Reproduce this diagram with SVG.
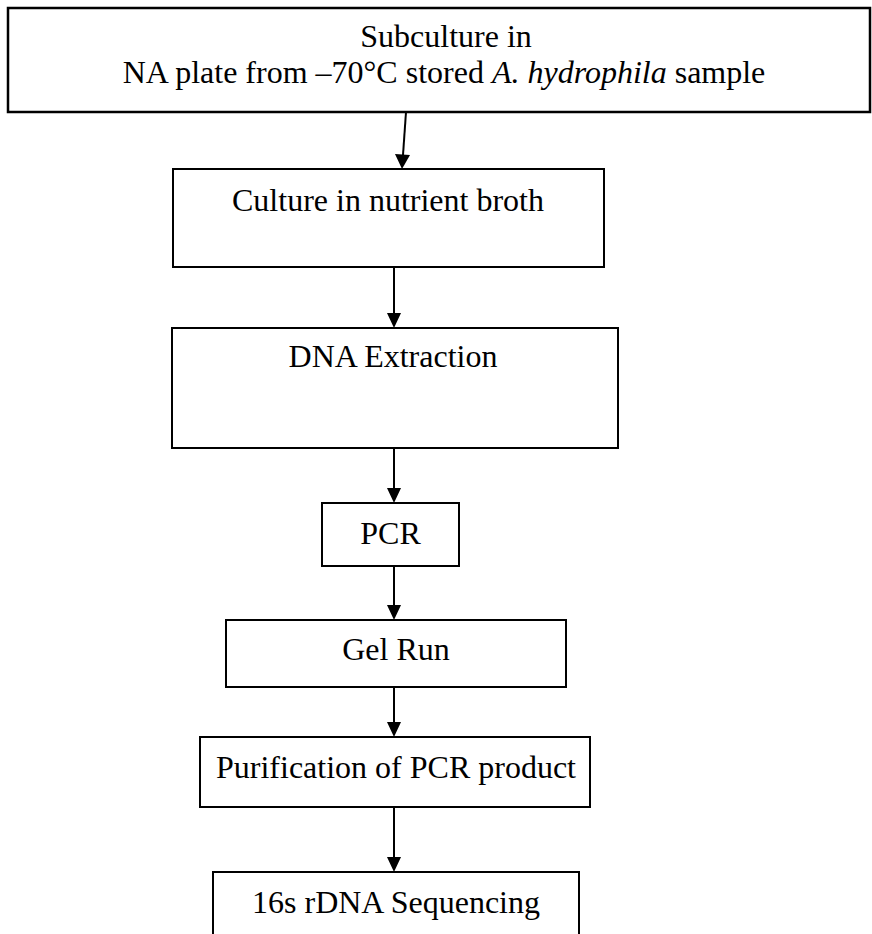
<svg xmlns="http://www.w3.org/2000/svg" width="872" height="934" viewBox="0 0 872 934">
<defs>
<marker id="ah" markerWidth="14" markerHeight="16" refX="7" refY="15" orient="auto-start-reverse" markerUnits="userSpaceOnUse" viewBox="0 0 14 16">
<path d="M0,0 L14,0 L7,15 Z" fill="#000" transform="rotate(-90 7 8)"/>
</marker>
<style>
.box{fill:#fff;stroke:#000;stroke-width:2}
.t{font-family:"Liberation Serif","Times New Roman",serif;font-size:32px;fill:#000;text-anchor:middle}
.c{stroke:#000;stroke-width:2;fill:none}
.hd{fill:#000}
</style>
</defs>
<rect width="872" height="934" fill="#fff"/>
<g id="n1">
<rect class="box" x="8" y="8" width="862" height="104" style="stroke-width:2.5"/>
<text class="t" x="446" y="47">Subculture in</text>
<text class="t" x="444" y="83">NA plate from –70°C stored <tspan font-style="italic">A. hydrophila</tspan> sample</text>
</g>
<g id="n2">
<rect class="box" x="173" y="169" width="431" height="98"/>
<text class="t" x="388" y="211">Culture in nutrient broth</text>
</g>
<g id="n3">
<rect class="box" x="172" y="328" width="446" height="120"/>
<text class="t" x="393" y="367">DNA Extraction</text>
</g>
<g id="n4">
<rect class="box" x="322" y="503" width="137" height="63"/>
<text class="t" x="390.5" y="544">PCR</text>
</g>
<g id="n5">
<rect class="box" x="226" y="620" width="340" height="67"/>
<text class="t" x="396" y="660">Gel Run</text>
</g>
<g id="n6">
<rect class="box" x="200" y="737" width="390" height="70"/>
<text class="t" x="396" y="778">Purification of PCR product</text>
</g>
<g id="n7">
<rect class="box" x="213" y="872" width="366" height="70"/>
<text class="t" x="396" y="913">16s rDNA Sequencing</text>
</g>
<g id="connectors">
<line class="c" x1="406" y1="112" x2="403" y2="155"/>
<path class="hd" d="M395,154 L410,155 L402,169 Z"/>
<line class="c" x1="394" y1="267" x2="394" y2="314"/>
<path class="hd" d="M387,313 L401,313 L394,328 Z"/>
<line class="c" x1="394" y1="448" x2="394" y2="489"/>
<path class="hd" d="M387,488 L401,488 L394,503 Z"/>
<line class="c" x1="394" y1="566" x2="394" y2="606"/>
<path class="hd" d="M387,605 L401,605 L394,620 Z"/>
<line class="c" x1="394" y1="687" x2="394" y2="723"/>
<path class="hd" d="M387,722 L401,722 L394,737 Z"/>
<line class="c" x1="394" y1="807" x2="394" y2="858"/>
<path class="hd" d="M387,857 L401,857 L394,872 Z"/>
</g>
</svg>
